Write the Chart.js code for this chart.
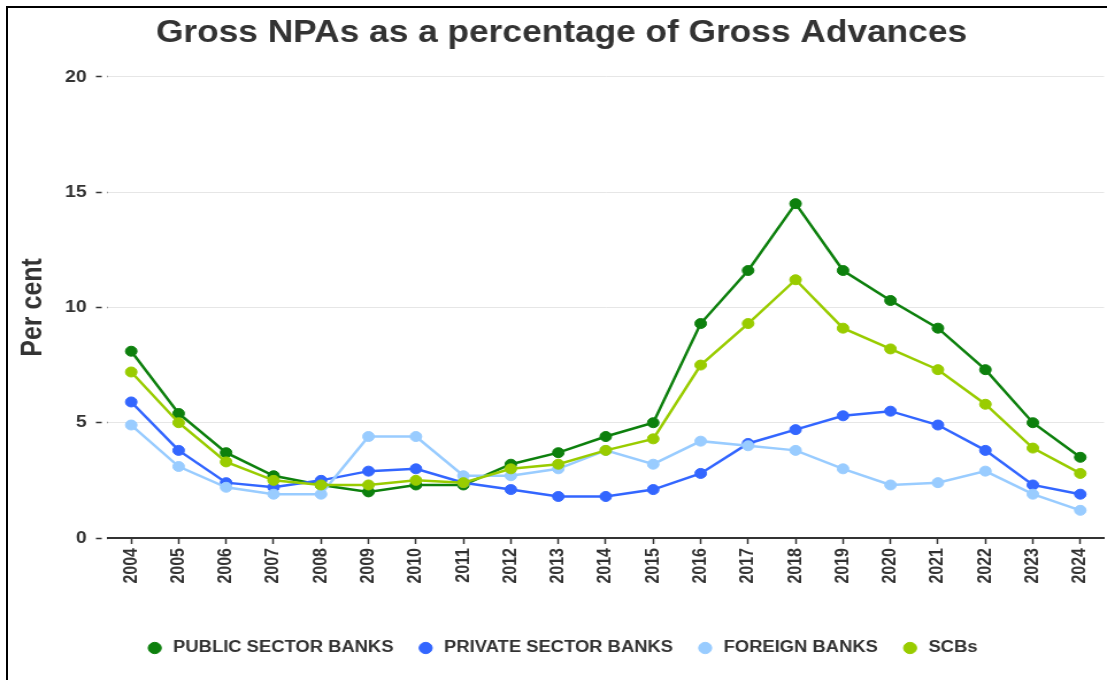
<!DOCTYPE html>
<html>
<head>
<meta charset="utf-8">
<title>Gross NPAs</title>
<script src="https://cdn.jsdelivr.net/npm/chart.js@4.4.1/dist/chart.umd.min.js"></script>
<style>
    html, body { margin: 0; padding: 0; background: #fff; }
    #lienzo { position: absolute; left: 0; top: 0; width: 963px; height: 680px; transform: scaleX(1.1495); transform-origin: 0 0; }
    #marco { position: absolute; left: 6px; top: 6px; width: 1101px; height: 674px; border-top: 2px solid #000; border-left: 2px solid #000; }
</style>
</head>
<body>
<div id="lienzo"><canvas id="npaChart"></canvas></div>
<div id="marco"></div>
<script>
// años del eje x
const anios = ['2004', '2005', '2006', '2007', '2008', '2009', '2010', '2011', '2012', '2013', '2014',
    '2015', '2016', '2017', '2018', '2019', '2020', '2021', '2022', '2023', '2024'];

// GNPA (% de adelantos brutos) por grupo de bancos
const bancosPublicos = [8.1, 5.4, 3.7, 2.7, 2.3, 2.0, 2.3, 2.3, 3.2, 3.7, 4.4, 5.0, 9.3, 11.6, 14.5, 11.6, 10.3, 9.1, 7.3, 5.0, 3.5];
const bancosPrivados = [5.9, 3.8, 2.4, 2.2, 2.5, 2.9, 3.0, 2.4, 2.1, 1.8, 1.8, 2.1, 2.8, 4.1, 4.7, 5.3, 5.5, 4.9, 3.8, 2.3, 1.9];
const bancosExtranjeros = [4.9, 3.1, 2.2, 1.9, 1.9, 4.4, 4.4, 2.7, 2.7, 3.0, 3.8, 3.2, 4.2, 4.0, 3.8, 3.0, 2.3, 2.4, 2.9, 1.9, 1.2];
const totalScb = [7.2, 5.0, 3.3, 2.5, 2.3, 2.3, 2.5, 2.4, 3.0, 3.2, 3.8, 4.3, 7.5, 9.3, 11.2, 9.1, 8.2, 7.3, 5.8, 3.9, 2.8];

const ticksY = [0, 5, 10, 15, 20];

const fuente = "'Liberation Sans', Arial, sans-serif";
const gris = '#333';

function serie(label, data, color, orden) {
    return {
        label: label,
        data: data,
        borderColor: color,
        backgroundColor: color,
        pointBackgroundColor: color,
        pointBorderColor: color,
        borderWidth: 2.5,
        pointRadius: 5,
        pointBorderWidth: 1,
        tension: 0,
        order: orden
    };
}

Chart.defaults.font.family = fuente;
Chart.defaults.color = gris;

const ctx = document.getElementById('npaChart').getContext('2d');

const npaChart = new Chart(ctx, {
    type: 'line',
    data: {
        labels: anios,
        datasets: [
            serie('PUBLIC SECTOR BANKS', bancosPublicos, '#0d800d', 3),
            serie('PRIVATE SECTOR BANKS', bancosPrivados, '#3366ff', 2),
            serie('FOREIGN BANKS', bancosExtranjeros, '#99ccff', 1),
            serie('SCBs', totalScb, '#99cc00', 0)
        ]
    },
    options: {
        responsive: true,
        maintainAspectRatio: false,
        animation: false,
        layout: {
            autoPadding: false,
            padding: { top: 5, bottom: 14, left: 14, right: 0 }
        },
        plugins: {
            title: {
                display: true,
                text: 'Gross NPAs as a percentage of Gross Advances',
                color: gris,
                font: { size: 30.7, weight: 'bold' },
                padding: { top: 10, bottom: 25 }
            },
            legend: {
                position: 'bottom',
                labels: {
                    usePointStyle: true,
                    pointStyle: 'circle',
                    boxWidth: 16,
                    boxHeight: 8,
                    padding: 20,
                    color: gris,
                    font: { size: 16, weight: 'bold' },
                    sort: (a, b) => a.datasetIndex - b.datasetIndex
                }
            },
            tooltip: { enabled: false }
        },
        scales: {
            x: {
                offset: true,
                grid: {
                    offset: false,
                    drawOnChartArea: false,
                    tickLength: 6,
                    tickColor: gris,
                    tickWidth: 1.5
                },
                border: { color: gris, width: 2 },
                ticks: {
                    autoSkip: false,
                    minRotation: 90,
                    maxRotation: 90,
                    padding: 4,
                    color: gris,
                    font: { size: 16, weight: 'bold' }
                },
                afterFit: function (escala) {
                    escala.height = 82;
                }
            },
            y: {
                min: ticksY[0],
                max: ticksY[ticksY.length - 1],
                afterBuildTicks: function (escala) {
                    escala.ticks = ticksY.map(v => ({ value: v }));
                },
                ticks: {
                    padding: 8,
                    color: gris,
                    font: { size: 17, weight: 'bold' }
                },
                grid: {
                    color: c => (c.tick && c.tick.value === 0) ? 'rgba(0,0,0,0)' : '#e6e6e6',
                    tickColor: gris,
                    tickLength: 10,
                    tickBorderDash: [5, 5],
                    tickWidth: 1.5
                },
                border: { display: false },
                title: {
                    display: true,
                    text: 'Per cent',
                    color: gris,
                    font: { size: 25, weight: 'bold' },
                    padding: { top: 0, bottom: 0 }
                },
                afterFit: function (escala) {
                    escala.width = 79.5;
                }
            }
        }
    }
});
</script>
</body>
</html>
